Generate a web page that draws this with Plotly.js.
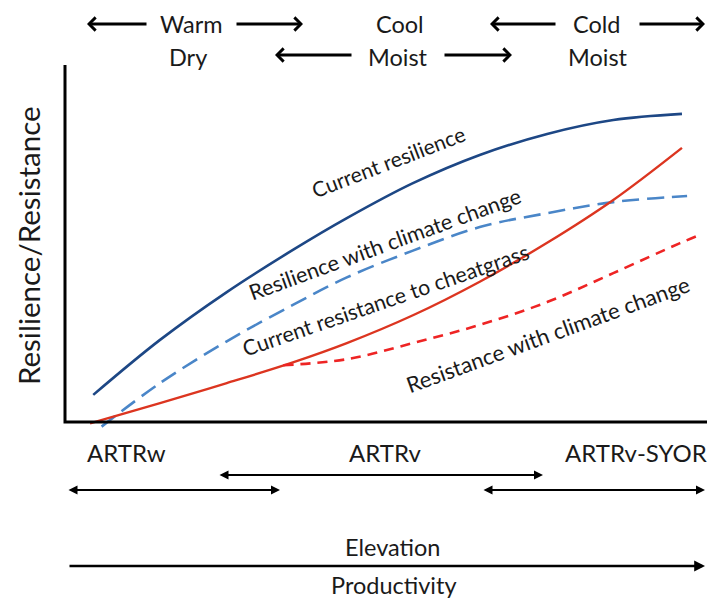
<!DOCTYPE html>
<html>
<head>
<meta charset="utf-8">
<script src="https://cdn.plot.ly/plotly-3.0.1.min.js"></script>
<style>
html,body{margin:0;padding:0;background:#ffffff;}
#chart{width:707px;height:599px;}
</style>
</head>
<body>
<div id="chart"></div>
<script>
// ---- data (conceptual index values, 0-100) ----
const currentResilienceX = [4.4, 14.8, 25.2, 35.5, 43.9, 54.2, 64.6, 75.1, 85.4, 96.1];
const currentResilienceY = [7.6, 23.0, 36.4, 48.2, 57.1, 66.9, 74.8, 80.7, 84.6, 86.3];

const resilienceClimateX = [5.7, 14.8, 25.2, 35.5, 43.9, 54.2, 64.6, 75.1, 85.4, 96.9];
const resilienceClimateY = [-1.3, 10.9, 22.6, 32.8, 40.5, 48.0, 54.6, 58.5, 61.6, 63.3];

const currentResistanceX = [3.9, 14.8, 25.2, 35.5, 43.9, 54.2, 64.6, 75.1, 85.4, 96.1];
const currentResistanceY = [-0.4, 5.3, 10.9, 16.7, 22.1, 29.9, 39.3, 50.2, 62.2, 76.8];

const resistanceClimateX = [34.0, 43.9, 54.2, 64.6, 75.1, 85.4, 95.8, 98.9];
const resistanceClimateY = [15.9, 17.6, 22.1, 27.2, 33.6, 41.7, 50.1, 52.4];

const curveLabels = ['Current resilience', 'Resilience with climate change',
                     'Current resistance to cheatgrass', 'Resistance with climate change'];
const climateLabels = ['Warm', 'Dry', 'Cool', 'Moist', 'Cold', 'Moist'];
const communityLabels = ['ARTRw', 'ARTRv', 'ARTRv-SYOR'];
const gradientLabels = ['Elevation', 'Productivity'];
const yTitle = 'Resilience/Resistance';

// ---- layout helpers (pixel -> paper) ----
const ML = 55, MR = 0, MT = 60, MB = 167, W = 707, H = 599;
const PW = W - ML - MR, PH = H - MT - MB;
const X = p => (p - ML) / PW;
const Y = p => (H - MB - p) / PH;

const FONT = 'Lato, "Open Sans", sans-serif';
const TXT = '#1a1a1a';

function label(text, px, py, size, angle) {
  return {text: text, xref: 'paper', yref: 'paper', x: X(px), y: Y(py),
          xanchor: 'center', yanchor: 'middle', showarrow: false,
          textangle: angle || 0, font: {family: FONT, size: size, color: TXT}};
}
function arrow(headX, headY, tailX, tailY, width, head, size, both) {
  return {text: '', xref: 'paper', yref: 'paper', x: X(headX), y: Y(headY),
          ax: tailX - headX, ay: tailY - headY, showarrow: true,
          arrowhead: head, startarrowhead: head, arrowsize: size, startarrowsize: size,
          arrowwidth: width, arrowcolor: '#000', arrowside: both ? 'end+start' : 'end',
          standoff: 0, startstandoff: 0};
}

const traces = [
  {x: currentResilienceX, y: currentResilienceY, mode: 'lines', name: curveLabels[0],
   line: {color: '#1d4785', width: 2.6, shape: 'spline', smoothing: 1}},
  {x: resilienceClimateX, y: resilienceClimateY, mode: 'lines', name: curveLabels[1],
   line: {color: '#4a86c8', width: 2.6, shape: 'spline', smoothing: 1, dash: '17px,8px'}},
  {x: currentResistanceX, y: currentResistanceY, mode: 'lines', name: curveLabels[2],
   line: {color: '#dc3520', width: 2.4, shape: 'spline', smoothing: 1}},
  {x: resistanceClimateX, y: resistanceClimateY, mode: 'lines', name: curveLabels[3],
   line: {color: '#ee2424', width: 2.6, shape: 'spline', smoothing: 1, dash: '10px,7px'}}
];

const annotations = [
  label(curveLabels[0], 388, 161, 21, -21),
  label(curveLabels[1], 385, 244, 21.6, -20),
  label(curveLabels[2], 386, 300, 21.4, -19),
  label(curveLabels[3], 547, 334, 22, -20),

  label(climateLabels[0], 191, 24, 23.5),
  label(climateLabels[1], 188, 57, 23.5),
  label(climateLabels[2], 400, 24, 23.5),
  label(climateLabels[3], 398, 57, 23.5),
  label(climateLabels[4], 597, 24, 23.5),
  label(climateLabels[5], 598, 57, 23.5),

  label(communityLabels[0], 126, 452, 24),
  label(communityLabels[1], 385, 452, 24),
  label(communityLabels[2], 636, 452, 24),

  label(gradientLabels[0], 392, 547, 23.5),
  label(gradientLabels[1], 394, 585, 23.5),

  label(yTitle, 28, 246, 29.5, -90),

  arrow(87, 24, 148, 24, 3, 4, 0.85, false),
  arrow(303, 24, 235, 24, 3, 4, 0.85, false),
  arrow(275, 55, 353, 55, 3, 4, 0.85, false),
  arrow(512, 55, 443, 55, 3, 4, 0.85, false),
  arrow(490, 24, 557, 24, 3, 4, 0.85, false),
  arrow(705, 24, 638, 24, 3, 4, 0.85, false),

  arrow(543, 475, 218, 475, 2, 2, 0.9, true),
  arrow(280, 490, 67, 490, 2, 2, 0.9, true),
  arrow(705, 490, 482, 490, 2, 2, 0.9, true),
  arrow(705, 566, 68, 566, 2.4, 2, 0.9, false)
];

const layout = {
  width: W, height: H,
  margin: {l: ML, r: MR, t: MT, b: MB, pad: 0},
  paper_bgcolor: '#ffffff', plot_bgcolor: '#ffffff',
  showlegend: false,
  xaxis: {range: [-10 / 6.42, 100], showgrid: false, zeroline: false, showline: false,
          showticklabels: false, ticks: '', fixedrange: true},
  yaxis: {range: [-10 / 3.57, 362 / 3.57], showgrid: false, zeroline: false, showline: false,
          showticklabels: false, ticks: '', fixedrange: true},
  shapes: [
    {type: 'path', xref: 'x', yref: 'y', path: 'M 0,100 L 0,0 L 100,0',
     line: {color: '#000', width: 3}, layer: 'above'}
  ],
  annotations: annotations
};

Plotly.newPlot('chart', traces, layout, {staticPlot: true, displayModeBar: false});
</script>
</body>
</html>
